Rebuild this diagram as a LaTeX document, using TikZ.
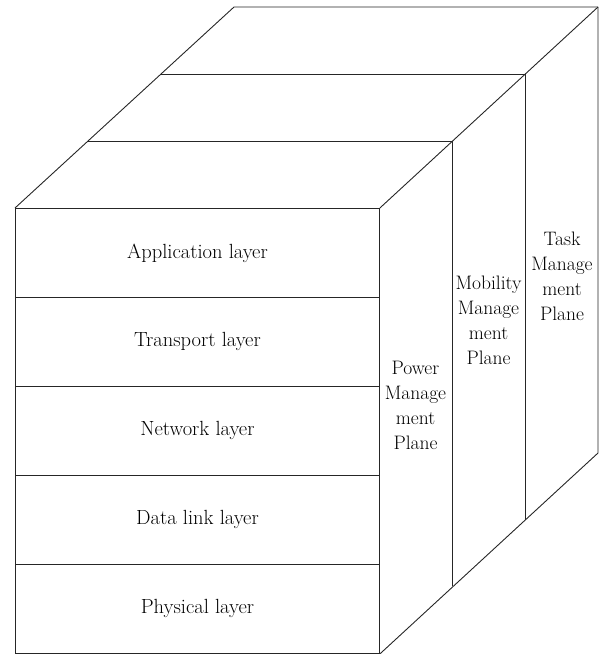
\documentclass[tikz,border=0pt]{standalone}
\begin{document}
\begin{tikzpicture}[x=1pt,y=-1pt,
  edge/.style={draw=black!85,line width=0.9pt,line join=miter},
  layerbox/.style={draw=black!85,line width=0.9pt,minimum width=364pt,minimum height=89pt,inner sep=0pt,anchor=north west,font=\fontsize{20.5}{24}\selectfont},
  planetext/.style={align=center,font=\fontsize{19.5}{25}\selectfont,inner sep=0pt}]
\useasboundingbox (0,0) rectangle (606,654);
% front face layers
\node[layerbox] (app) at (15,208) {Application layer};
\node[layerbox] (tra) at (15,297) {Transport layer};
\node[layerbox] (net) at (15,386) {Network layer};
\node[layerbox] (dl) at (15,475) {Data link layer};
\node[layerbox] (phy) at (15,564) {Physical layer};
% corners
\coordinate (t1l) at (88,141);
\coordinate (t2l) at (161,74);
\coordinate (t3l) at (234,7);
\coordinate (t1r) at (452,141);
\coordinate (t2r) at (525,74);
\coordinate (t3r) at (598,7);
\coordinate (b1) at (452,586);
\coordinate (b2) at (525,520);
\coordinate (b3) at (598,453);
% top face
\draw[edge] (app.north west) -- (t3l) -- (t3r);
\draw[edge] (t1l) -- (t1r);
\draw[edge] (t2l) -- (t2r);
\draw[edge] (app.north east) -- (t3r);
% right face
\draw[edge] (t1r) -- (b1);
\draw[edge] (t2r) -- (b2);
\draw[edge] (t3r) -- (b3) -- (phy.south east);
% plane labels
\node[planetext] (pow) at (415.5,405) {Power\\Manage\\ment\\Plane};
\node[planetext] (mob) at (488.5,320) {Mobility\\Manage\\ment\\Plane};
\node[planetext] (task) at (562,276) {Task\\Manage\\ment\\Plane};
\end{tikzpicture}
\end{document}
